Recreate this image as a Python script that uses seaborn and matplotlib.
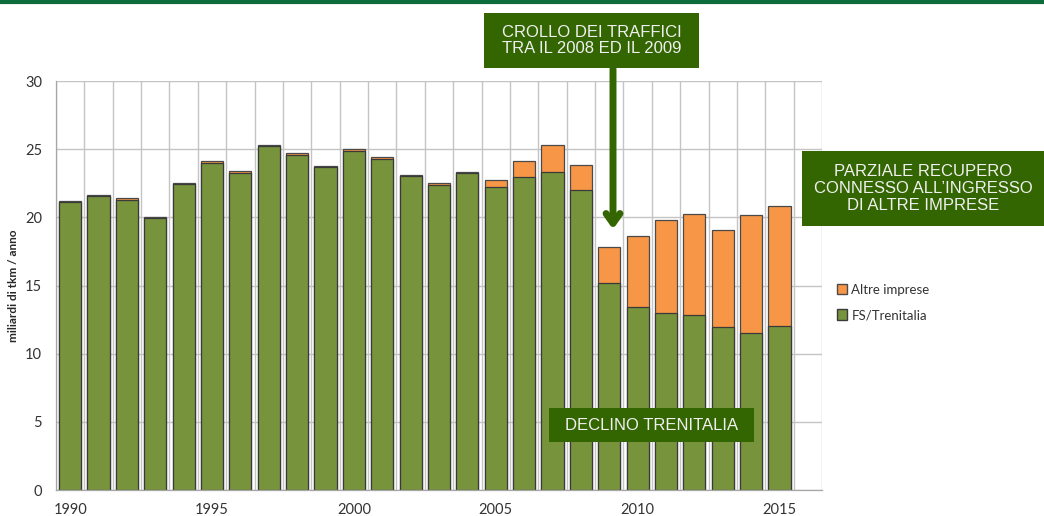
import pandas as pd
import matplotlib
matplotlib.use("Agg")
import matplotlib.pyplot as plt
import seaborn as sns
from matplotlib.patches import Rectangle, FancyArrowPatch, Patch
from matplotlib.lines import Line2D

# Data (miliardi di tkm / anno)
years = [str(y) for y in range(1990, 2016)]
fs_trenitalia = [21.1, 21.55, 21.3, 19.95, 22.45, 23.95, 23.25, 25.2, 24.6, 23.7,
                 24.85, 24.25, 23.05, 22.4, 23.25, 22.2, 22.95, 23.3, 22.0, 15.2,
                 13.4, 12.95, 12.8, 11.95, 11.55, 12.05]
altre_imprese = [0.1, 0.1, 0.1, 0.05, 0.05, 0.15, 0.15, 0.1, 0.1, 0.1,
                 0.15, 0.15, 0.05, 0.12, 0.05, 0.55, 1.15, 2.0, 1.85, 2.6,
                 5.2, 6.85, 7.45, 7.1, 8.6, 8.75]
label_years = ["1990", "1995", "2000", "2005", "2010", "2015"]
order = years + ["2016"]  # empty last slot as in the original

df = pd.DataFrame({"anno": years, "FS/Trenitalia": fs_trenitalia,
                   "Altre imprese": altre_imprese})
df["totale"] = df["FS/Trenitalia"] + df["Altre imprese"]

GREEN = "#77933C"
ORANGE = "#F79646"
BOX = "#336600"

sns.set_style("white")
plt.rcParams["font.family"] = ["Lato", "DejaVu Sans"]

fig = plt.figure(figsize=(10.44, 5.16), dpi=100)
ax = fig.add_axes([56 / 1044, 26 / 516, (822 - 56) / 1044, (490 - 81) / 516])

# stacked bars: total (orange) behind, FS/Trenitalia (green) in front
sns.barplot(data=df, x="anno", y="totale", order=order, color=ORANGE,
            saturation=1, width=0.78, edgecolor="#4a4a4a", linewidth=0.9, ax=ax)
sns.barplot(data=df, x="anno", y="FS/Trenitalia", order=order, color=GREEN,
            saturation=1, width=0.78, edgecolor="#3a3a3a", linewidth=0.9, ax=ax)

ax.set_ylim(0, 30)
ax.set_xlim(-0.5, len(order) - 0.5)
ax.set_yticks(range(0, 31, 5))
ax.set_xticks(range(len(order)))
ax.set_xticklabels([y if y in label_years else "" for y in order])
ax.set_xticks([i - 0.5 for i in range(len(order) + 1)], minor=True)
ax.tick_params(axis="x", which="major", length=0, pad=9, labelsize=10.5, colors="#333333")
ax.tick_params(axis="x", which="minor", length=5, color="#a6a6a6", width=0.8)
ax.tick_params(axis="y", length=5, color="#a6a6a6", width=0.8, labelsize=10.5,
               colors="#333333", pad=5)
ax.grid(axis="y", color="#c4c4c4", linewidth=1)
ax.grid(axis="x", which="minor", color="#c4c4c4", linewidth=1)
ax.set_axisbelow(True)
for s in ["top", "right"]:
    ax.spines[s].set_visible(False)
for s in ["left", "bottom"]:
    ax.spines[s].set_color("#a6a6a6")
    ax.spines[s].set_linewidth(0.9)
ax.set_xlabel("")
ax.set_ylabel("miliardi di tkm / anno", fontsize=8.5, fontweight="bold", labelpad=4)

handles = [Patch(facecolor=ORANGE, edgecolor="#4a4a4a", label="Altre imprese"),
           Patch(facecolor=GREEN, edgecolor="#3a3a3a", label="FS/Trenitalia")]
fig.legend(handles=handles, loc="upper left", bbox_to_anchor=(825 / 1044, 1 - 272 / 516),
           frameon=False, fontsize=9.5, handlelength=0.8, handleheight=0.8,
           handletextpad=0.3, labelspacing=1.0, labelcolor="#333333")

# top border line
fig.add_artist(Line2D([0, 1], [1 - 1.5 / 516, 1 - 1.5 / 516], color="#0E6B3C", lw=3))


def box(x0, y0, x1, y1, text):
    fig.add_artist(Rectangle((x0 / 1044, 1 - y1 / 516), (x1 - x0) / 1044, (y1 - y0) / 516,
                             facecolor=BOX, edgecolor="none", zorder=5))
    fig.text((x0 + x1) / 2 / 1044, 1 - (y0 + y1) / 2 / 516, text, ha="center", va="center",
             color="#f0f0f0", fontsize=12, family=["Liberation Sans", "DejaVu Sans"],
             linespacing=1.15, zorder=6)


box(484, 13, 699, 68, "CROLLO DEI TRAFFICI\nTRA IL 2008 ED IL 2009")
box(802, 151, 1044, 226, "PARZIALE RECUPERO\nCONNESSO ALL\u2019INGRESSO\nDI ALTRE IMPRESE")
box(549, 408, 754, 442, "DECLINO TRENITALIA")

arrow = FancyArrowPatch((613 / 1044, 1 - 66 / 516), (613 / 1044, 1 - 232 / 516),
                        transform=fig.transFigure, arrowstyle="->,head_length=7,head_width=5",
                        color=BOX, lw=5, zorder=6)
fig.add_artist(arrow)

fig.savefig("out.png", dpi=100)
